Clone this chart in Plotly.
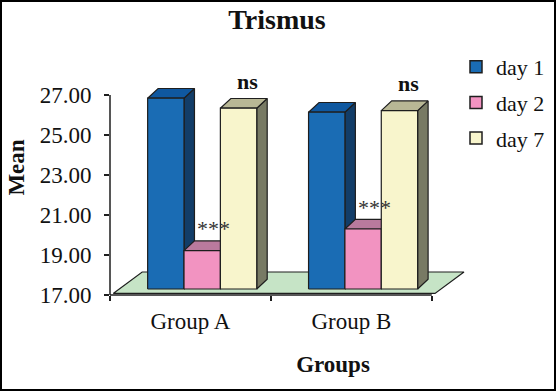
import plotly.graph_objects as go

# ---------------- data ----------------
groups = ["Group A", "Group B"]
series = ["day 1", "day 2", "day 7"]
day1 = [26.54, 25.84]
day2 = [18.92, 20.00]
day7 = [26.04, 25.92]
sig_marks = ["", "***", "ns"]          # significance label per series
y_ticks = [17, 19, 21, 23, 25, 27]

values = [day1, day2, day7]

# ---------------- style ----------------
FONT = "Liberation Serif"
front_col = ["#1a6cb4", "#f293c1", "#f8f5cc"]
top_col = ["#0f58a0", "#b97a9d", "#b8b795"]
side_col = ["#123d68", "#a0577c", "#787a64"]
edge = "#1e1e1e"
floor_col = "#c6e4c6"

W, H = 556, 391
ML, MR, MT, MB = 110, 0, 40, 96
PW, PH = W - ML - MR, H - MT - MB
PX_X, PX_Y = 160.9, 20.0           # pixels per category / per unit

Y0 = 17.0
X_MAX, Y_MAX = PW / PX_X, Y0 + PH / PX_Y
bar_w, bar_start = 0.226, 0.234
lift = 0.3                 # bars' front plane above axis baseline
ddx, ddy = 0.065, 0.485    # bar depth (3D offset)
fx0, fy0 = 0.02, 0.08      # floor front edge offset
fdx, fdy = 0.18, 1.07      # floor depth

fig = go.Figure()

# legend entries
for j, name in enumerate(series):
    fig.add_trace(go.Bar(x=[None], y=[None], name=name, legendgroup=name,
                         marker=dict(color=front_col[j], line=dict(color=edge, width=1.5))))


def poly(xs, ys, color):
    fig.add_trace(go.Scatter(x=xs + xs[:1], y=ys + ys[:1], mode="lines", fill="toself",
                             fillcolor=color, line=dict(color=edge, width=1.2),
                             hoverinfo="skip", showlegend=False))


n = len(groups)
# floor
fl, fr = fx0, n + fx0
fb = Y0 + fy0
poly([fl, fr, fr + fdx, fl + fdx], [fb, fb, fb + fdy, fb + fdy], floor_col)

annotations = []
for i in range(n):
    for j in range(len(series)):
        v = values[j][i]
        xl = i + bar_start + j * bar_w
        xr = xl + bar_w
        yb, yt = Y0 + lift, v + lift
        poly([xr, xr + ddx, xr + ddx, xr], [yb, yb + ddy, yt + ddy, yt], side_col[j])
        poly([xl, xr, xr + ddx, xl + ddx], [yt, yt, yt + ddy, yt + ddy], top_col[j])
        poly([xl, xr, xr, xl], [yb, yb, yt, yt], front_col[j])
        m = sig_marks[j]
        if m:
            bold = m == "ns"
            annotations.append(dict(
                x=(xl + xr) / 2 + (0.055 if bold else 0.07),
                y=v + (1.65 if bold else 1.4),
                xref="x", yref="y", showarrow=False, yanchor="middle",
                text=f"<b>{m}</b>" if bold else m,
                font=dict(family=FONT, size=22 if bold else 22, color="#111" if bold else "#333")))

# axis lines (value axis up to last tick, category axis over the categories)
y_top = (y_ticks[-1] - Y0) / (Y_MAX - Y0)
x_end = n / X_MAX
shapes = [
    dict(type="line", xref="paper", yref="paper", x0=0, x1=0, y0=0, y1=y_top,
         line=dict(color=edge, width=1.5)),
    dict(type="line", xref="paper", yref="paper", x0=0, x1=x_end, y0=0, y1=0,
         line=dict(color=edge, width=1.5)),
    dict(type="rect", xref="paper", yref="paper",
         x0=-(ML - 1) / PW, x1=1 + (MR - 1) / PW, y0=-(MB - 1) / PH, y1=1 + (MT - 1) / PH,
         line=dict(color="black", width=2)),
]

fig.update_layout(
    width=W, height=H, margin=dict(l=ML, r=MR, t=MT, b=MB, autoexpand=False),
    paper_bgcolor="white", plot_bgcolor="white",
    font=dict(family=FONT, color="#111"),
    title=dict(text="<b>Trismus</b>", x=277 / W, xanchor="center", xref="container",
               y=1 - 19 / H, yanchor="middle", yref="container",
               font=dict(family=FONT, size=28, color="#111")),
    showlegend=True,
    legend=dict(x=(456 - ML) / PW, xanchor="left", y=1 - (46 - MT) / PH, yanchor="top",
                font=dict(family=FONT, size=22, color="#111"), tracegroupgap=4,
                bgcolor="rgba(0,0,0,0)"),
    xaxis=dict(type="linear", range=[0, X_MAX], showgrid=False, zeroline=False, showline=False,
               tickvals=[i + 0.5 for i in range(n)], ticktext=groups, ticks="",
               ticklabelstandoff=10,
               tickfont=dict(family=FONT, size=23, color="#111"),
               minor=dict(tickvals=list(range(n + 1)), ticks="outside", ticklen=5,
                          tickwidth=1.5, tickcolor=edge, showgrid=False),
               title=dict(text="<b>Groups</b>", font=dict(family=FONT, size=23, color="#111"),
                          standoff=22)),
    yaxis=dict(range=[Y0, Y_MAX], showgrid=False, zeroline=False, showline=False,
               tickvals=y_ticks, tickformat=".2f", ticks="outside", ticklen=5,
               tickwidth=1.5, tickcolor=edge, ticklabelstandoff=8,
               tickfont=dict(family=FONT, size=23, color="#111"),
               title=dict(text="<b>Mean</b>", font=dict(family=FONT, size=23, color="#111"),
                          standoff=8)),
    shapes=shapes, annotations=annotations,
)

fig.write_html("out.html", config={"displayModeBar": False},
               post_script="document.body.style.margin='0';")
